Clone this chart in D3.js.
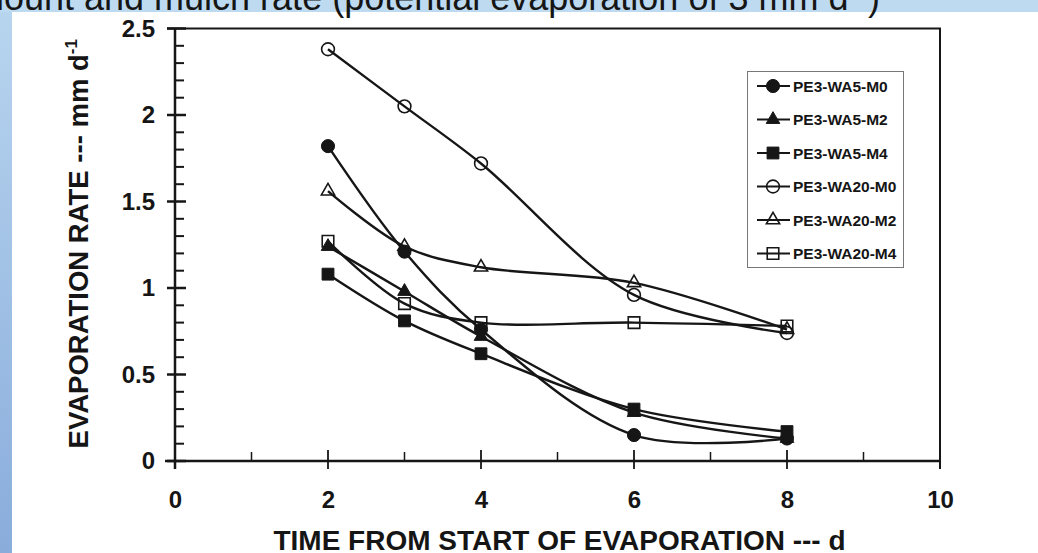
<!DOCTYPE html>
<html>
<head>
<meta charset="utf-8">
<script src="https://cdn.jsdelivr.net/npm/d3@7"></script>
<style>
  html, body { margin: 0; padding: 0; background: #fff; }
  svg { display: block; }
  text { font-family: "Liberation Sans", Arial, Helvetica, sans-serif; fill: #151515; }
</style>
</head>
<body>
<svg id="chart" width="1038" height="553"></svg>
<script>
// days after start of evaporation
const days = [2, 3, 4, 6, 8];

// evaporation rate, mm/d, one array per treatment
const wa5m0 = [1.82, 1.21, 0.76, 0.15, 0.13];
const wa5m2 = [1.24, 0.98, 0.72, 0.28, 0.13];
const wa5m4 = [1.08, 0.81, 0.62, 0.30, 0.17];
const wa20m0 = [2.38, 2.05, 1.72, 0.96, 0.74];
const wa20m2 = [1.56, 1.24, 1.12, 1.03, 0.76];
const wa20m4 = [1.27, 0.91, 0.80, 0.80, 0.78];

const seriesNames = ["PE3-WA5-M0", "PE3-WA5-M2", "PE3-WA5-M4", "PE3-WA20-M0", "PE3-WA20-M2", "PE3-WA20-M4"];
const seriesValues = [wa5m0, wa5m2, wa5m4, wa20m0, wa20m2, wa20m4];
const seriesShapes = ["circle", "triangle", "square", "circle", "triangle", "square"];
const seriesFilled = [true, true, true, false, false, false];

const xTicks = [0, 2, 4, 6, 8, 10];
const xMinor = [1, 3, 5, 7, 9];
const yTicks = [0, 0.5, 1, 1.5, 2, 2.5];

const ink = "#161616";
const svg = d3.select("#chart");

// page background: light blue title band and left strip
const grad = svg.append("defs").append("linearGradient")
  .attr("id", "strip").attr("x1", 0).attr("y1", 0).attr("x2", 0).attr("y2", 1);
grad.append("stop").attr("offset", "0%").attr("stop-color", "#b8d5ef");
grad.append("stop").attr("offset", "100%").attr("stop-color", "#89acdb");
svg.append("rect").attr("x", 0).attr("y", 0).attr("width", 1038).attr("height", 12).attr("fill", "#bddaf0");
svg.append("rect").attr("x", 0).attr("y", 12).attr("width", 12).attr("height", 541).attr("fill", "url(#strip)");

const title = svg.append("text")
  .attr("x", 880).attr("y", 9.5)
  .attr("text-anchor", "end")
  .style("font-size", "36px")
  .text("amount and mulch rate (potential evaporation of 3 mm d");
title.append("tspan").attr("dy", -13).style("font-size", "22px").text("-1");
title.append("tspan").attr("dy", 13).text(")");

const x = d3.scaleLinear().domain([0, 10]).range([175, 940]);
const y = d3.scaleLinear().domain([0, 2.5]).range([461, 28.5]);

const minorY = d3.range(0, 2.5001, 0.1).filter((v) => Math.abs(v * 2 - Math.round(v * 2)) > 0.01);

// frame (top and right sides)
svg.append("line").attr("x1", 167).attr("x2", x(10) + 1).attr("y1", y(2.5)).attr("y2", y(2.5))
  .attr("stroke", ink).attr("stroke-width", 2);
svg.append("line").attr("x1", x(10)).attr("x2", x(10)).attr("y1", y(2.5)).attr("y2", 469)
  .attr("stroke", ink).attr("stroke-width", 2);

// axes lines
svg.append("line").attr("x1", x(0)).attr("x2", x(0)).attr("y1", y(2.5)).attr("y2", 469)
  .attr("stroke", ink).attr("stroke-width", 2.5);
svg.append("line").attr("x1", 165).attr("x2", x(10)).attr("y1", y(0)).attr("y2", y(0))
  .attr("stroke", ink).attr("stroke-width", 2.5);

// y ticks
svg.append("g").selectAll("line").data(yTicks).join("line")
  .attr("x1", 167).attr("x2", 186)
  .attr("y1", (d) => y(d)).attr("y2", (d) => y(d))
  .attr("stroke", ink).attr("stroke-width", 2.5);
svg.append("g").selectAll("line").data(minorY).join("line")
  .attr("x1", x(0)).attr("x2", 184)
  .attr("y1", (d) => y(d)).attr("y2", (d) => y(d))
  .attr("stroke", ink).attr("stroke-width", 2);

// x ticks
svg.append("g").selectAll("line").data(xTicks).join("line")
  .attr("x1", (d) => x(d)).attr("x2", (d) => x(d))
  .attr("y1", 450).attr("y2", 469)
  .attr("stroke", ink).attr("stroke-width", 1.8);
svg.append("g").selectAll("line").data(xMinor).join("line")
  .attr("x1", (d) => x(d)).attr("x2", (d) => x(d))
  .attr("y1", 452).attr("y2", y(0))
  .attr("stroke", ink).attr("stroke-width", 1.5);

// tick labels via d3 axes
const xAxis = svg.append("g")
  .attr("transform", `translate(0,${y(0)})`)
  .call(d3.axisBottom(x).tickValues(xTicks).tickSize(0).tickPadding(30).tickFormat(d3.format("d")));
const yAxis = svg.append("g")
  .attr("transform", `translate(${x(0)},0)`)
  .call(d3.axisLeft(y).tickValues(yTicks).tickSize(0).tickPadding(20).tickFormat(d3.format("~g")));
[xAxis, yAxis].forEach((g) => {
  g.select(".domain").remove();
  g.selectAll("text")
    .attr("fill", ink)
    .style("font-family", '"Liberation Sans", Arial, sans-serif')
    .style("font-size", "24px")
    .style("font-weight", "bold");
});

// axis titles
svg.append("text")
  .attr("x", (x(0) + x(10)) / 2 + 2).attr("y", 550)
  .attr("text-anchor", "middle")
  .attr("textLength", 572).attr("lengthAdjust", "spacingAndGlyphs")
  .style("font-size", "27px").style("font-weight", "bold")
  .text("TIME FROM START OF EVAPORATION --- d");

const yTitle = svg.append("text")
  .attr("transform", `translate(88,${(y(0) + y(2.5)) / 2 - 1}) rotate(-90)`)
  .attr("text-anchor", "middle")
  .style("font-size", "27.5px").style("font-weight", "bold")
  .text("EVAPORATION RATE --- mm d");
yTitle.append("tspan").attr("dy", -11).style("font-size", "17px").text("-1");

// markers
const symbolType = { circle: d3.symbolCircle, triangle: d3.symbolTriangle, square: d3.symbolSquare };
const symbolSize = { circle: 135, triangle: 80, square: 140 };
function marker(sel, shape, filled) {
  sel.attr("d", d3.symbol().type(symbolType[shape]).size(filled ? symbolSize[shape] : symbolSize[shape] * 0.95))
    .attr("fill", filled ? ink : "none")
    .attr("stroke", ink)
    .attr("stroke-width", filled ? 1 : 1.6);
}

const line = d3.line()
  .x((d) => x(d[0]))
  .y((d) => y(d[1]))
  .curve(d3.curveCatmullRom.alpha(0.5));

const series = seriesNames.map((name, i) => ({
  name: name,
  shape: seriesShapes[i],
  filled: seriesFilled[i],
  points: days.map((day, j) => [day, seriesValues[i][j]]),
}));

const plot = svg.append("g");
plot.selectAll("path.curve").data(series).join("path")
  .attr("class", "curve")
  .attr("d", (d) => line(d.points))
  .attr("fill", "none")
  .attr("stroke", ink)
  .attr("stroke-width", 2.4);

series.forEach((s) => {
  plot.append("g").selectAll("path").data(s.points).join("path")
    .attr("transform", (d) => `translate(${x(d[0])},${y(d[1])})`)
    .call(marker, s.shape, s.filled);
});

// legend
const legend = svg.append("g");
legend.append("rect")
  .attr("x", 747.5).attr("y", 71.5).attr("width", 156).attr("height", 196)
  .attr("fill", "#fff").attr("stroke", "#777").attr("stroke-width", 1);
const rows = legend.selectAll("g.row").data(series).join("g")
  .attr("class", "row")
  .attr("transform", (d, i) => `translate(0,${86 + i * 33.5})`);
rows.append("line")
  .attr("x1", 757).attr("x2", 790).attr("y1", 0).attr("y2", 0)
  .attr("stroke", ink).attr("stroke-width", 2);
rows.append("path")
  .attr("transform", "translate(773,0)")
  .each(function (d) { d3.select(this).call(marker, d.shape, d.filled); });
rows.append("text")
  .attr("x", 793).attr("y", 0).attr("dy", "0.36em")
  .style("font-size", "15.5px").style("font-weight", "bold")
  .text((d) => d.name);
</script>
</body>
</html>
